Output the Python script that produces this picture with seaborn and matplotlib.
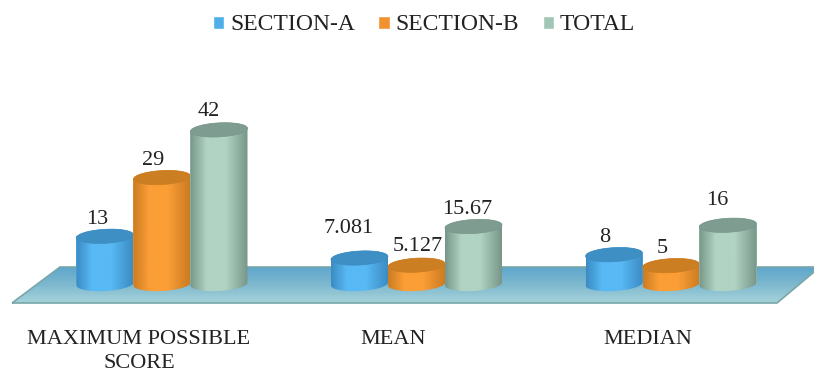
import numpy as np
import pandas as pd
import matplotlib
matplotlib.use("Agg")
import matplotlib.pyplot as plt
import seaborn as sns
from matplotlib.colors import LinearSegmentedColormap
from matplotlib.patches import PathPatch
from matplotlib.path import Path

groups = ["MAXIMUM POSSIBLE\nSCORE", "MEAN", "MEDIAN"]
section_a = [13, 7.081, 8]
section_b = [29, 5.127, 5]
total = [42, 15.67, 16]
labels_a = ["13", "7.081", "8"]
labels_b = ["29", "5.127", "5"]
labels_t = ["42", "15.67", "16"]
series = ["SECTION-A", "SECTION-B", "TOTAL"]

W, H = 814, 375
PX_PER_GROUP = 254.5
PX_PER_UNIT = 3.67
X0_PX, Y0_PX, AX_BOTTOM_PX = 162.0, 284.0, 322.0

sns.set_theme(style="white")
plt.rcParams["font.family"] = ["Liberation Serif", "DejaVu Serif"]
TEXT = "#222222"

df = pd.DataFrame({
    "group": groups * 3,
    "section": [s for s in series for _ in groups],
    "score": section_a + section_b + total,
})
mids = {"SECTION-A": "#4FB0E8", "SECTION-B": "#F2922F", "TOTAL": "#A2C6B5"}
shades = {
    "SECTION-A": ("#3C8CC4", "#58B9F4", "#3E8FC4"),
    "SECTION-B": ("#CC7C22", "#FB9E36", "#CC7E22"),
    "TOTAL": ("#78978A", "#B0D3C3", "#7E9C90"),
}

fig = plt.figure(figsize=(W / 100, H / 100), dpi=100)
ax = fig.add_axes([0, (H - AX_BOTTOM_PX) / H, 1, AX_BOTTOM_PX / H])
sns.barplot(data=df, x="group", y="score", hue="section", order=groups,
            hue_order=series, palette=mids, width=3 * 57 / PX_PER_GROUP,
            gap=0, dodge=True, saturation=1, errorbar=None, ax=ax)

xlim = (-X0_PX / PX_PER_GROUP, (W - X0_PX) / PX_PER_GROUP)
ylim = ((Y0_PX - AX_BOTTOM_PX) / PX_PER_UNIT, Y0_PX / PX_PER_UNIT)
X = lambda p: (np.asarray(p, float) - X0_PX) / PX_PER_GROUP
Y = lambda p: (Y0_PX - np.asarray(p, float)) / PX_PER_UNIT

# floor of the 3-D chart, with a vertical gradient
floor_cmap = LinearSegmentedColormap.from_list("floor", ["#5FA6CB", "#7FB9CF", "#A6D3DA"])
fx, fy = X([12, 60, 820, 777, 12]), Y([303, 267, 267, 303, 303])
floor_img = ax.imshow(np.linspace(0, 1, 64)[:, None], cmap=floor_cmap, aspect="auto",
                      extent=(fx.min(), fx.max(), fy.min(), fy.max()),
                      origin="upper", zorder=0.5)
floor_poly = PathPatch(Path(np.c_[fx, fy]), fc="none", ec="#79A6A8", lw=1.2, zorder=0.6)
ax.add_patch(floor_poly)
floor_img.set_clip_path(floor_poly)

ELL = 14 / PX_PER_UNIT
TILT = 3 / PX_PER_UNIT      # the ellipses rise slightly to the right
z = 2.0
text_by_series = [labels_a, labels_b, labels_t]
off_x = [[-8, -11, -9], [-9, 1, -9], [-10, -6, -11]]
off_y = [[17, 30, 17], [17, 19, 17], [18, 17, 25]]
bars = []
for si, (name, cont) in enumerate(zip(series, ax.containers)):
    for gi, patch in enumerate(cont):
        bars.append((gi, si, name, patch))
bars.sort(key=lambda b: (b[0], b[1]))

for gi, si, name, patch in bars:
    left, w, top = patch.get_x(), patch.get_width(), patch.get_height()
    patch.set_zorder(z)
    patch.set_edgecolor("none")
    dark, bright, cap = shades[name]
    cm = LinearSegmentedColormap.from_list(
        name, [(0, dark), (0.28, bright), (0.62, bright), (1, dark)])
    cx = left + w / 2

    def ring(level, t):
        xr = cx + w / 2 * np.cos(t)
        yr = level + ELL / 2 * np.sin(t) + TILT * np.cos(t) / 2
        return np.c_[xr, yr]

    lower = ring(0, np.linspace(np.pi, 2 * np.pi, 48))
    upper = ring(top, np.linspace(0, np.pi, 48))
    body = np.r_[lower, upper, lower[:1]]
    clip = PathPatch(Path(body), fc="none", ec="none", zorder=z)
    ax.add_patch(clip)
    img = ax.imshow(np.linspace(0, 1, 64)[None, :], cmap=cm, aspect="auto",
                    extent=(left, left + w, -ELL, top + ELL), zorder=z + 0.01)
    img.set_clip_path(clip)
    rim = ring(top, np.linspace(0, 2 * np.pi, 96))
    ax.add_patch(PathPatch(Path(rim), fc=cap, ec=dark, lw=0.5, zorder=z + 0.02))
    ax.annotate(text_by_series[si][gi], (cx, top),
                xytext=(off_x[si][gi] * 0.72, off_y[si][gi] * 0.72),
                textcoords="offset points", ha="center", va="center",
                fontsize=16, color=TEXT, zorder=10)
    z += 0.1

ax.set_xlim(xlim)
ax.set_ylim(ylim)
ax.set_xticks(np.arange(len(groups)) - 23 / PX_PER_GROUP, groups)
ax.tick_params(axis="x", length=0, pad=6, labelsize=16, labelcolor=TEXT)
ax.set_yticks([])
ax.set_xlabel("")
ax.set_ylabel("")
for tick in ax.get_xticklabels():
    tick.set_linespacing(1.35)
sns.despine(ax=ax, left=True, bottom=True)

handles, leg_labels = ax.get_legend_handles_labels()
ax.legend(handles, leg_labels, loc="center", bbox_to_anchor=(424 / W, 1 - 25 / AX_BOTTOM_PX),
          ncols=3, frameon=False, fontsize=17, labelcolor=TEXT,
          handlelength=0.48, handleheight=0.48, handletextpad=0.25,
          columnspacing=1.0, borderpad=0)

fig.savefig("out.png", dpi=100, facecolor="white")
